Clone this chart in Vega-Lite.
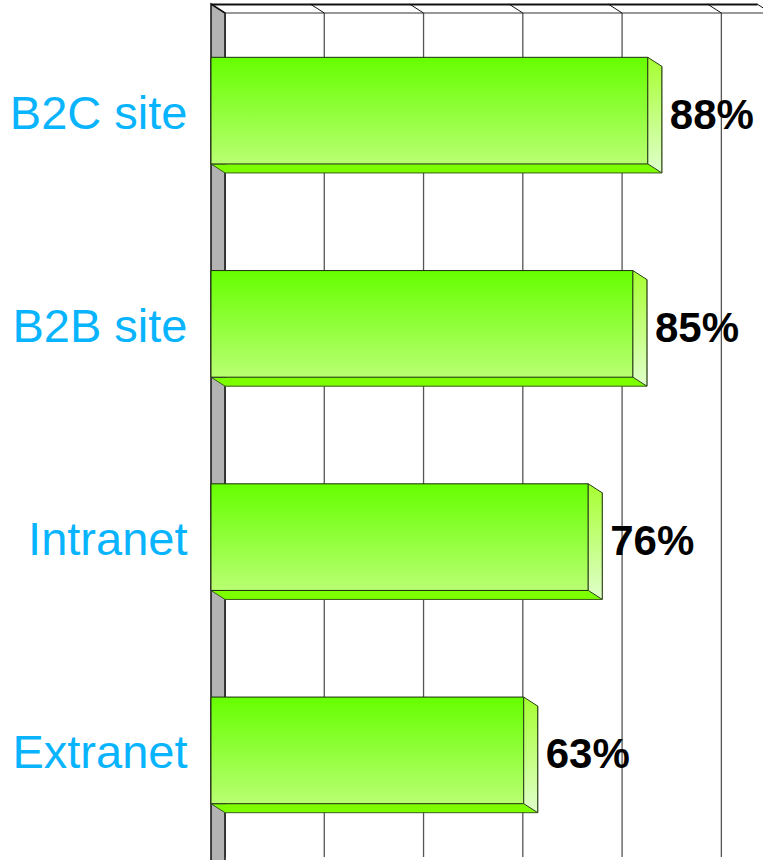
{
  "$schema": "https://vega.github.io/schema/vega-lite/v6.json",
  "width": 546,
  "height": 853,
  "autosize": {"type": "none"},
  "padding": {"left": 211, "top": 4, "right": 6, "bottom": 3},
  "background": "white",
  "config": {
    "view": {"stroke": null},
    "axisX": {"domain": true, "domainColor": "#111", "domainWidth": 2, "ticks": false, "labels": false, "grid": false},
    "axisY": {"domain": false, "ticks": false, "grid": false, "labelFont": "Liberation Sans", "labelFontSize": 47, "labelColor": "#08b4fd", "labelPadding": 24, "labelLimit": 300, "labelBaseline": "middle", "labelOffset": 4}
  },
  "datasets": {
    "bars": [
      {"category": "B2C site", "value": 88, "label": "88%"},
      {"category": "B2B site", "value": 85, "label": "85%"},
      {"category": "Intranet", "value": 76, "label": "76%"},
      {"category": "Extranet", "value": 63, "label": "63%"}
    ],
    "grid": [{"tick": 0}, {"tick": 20}, {"tick": 40}, {"tick": 60}, {"tick": 80}, {"tick": 100}],
    "edges": [{"tick": 0}, {"tick": 20}, {"tick": 40}, {"tick": 60}, {"tick": 80}, {"tick": 100}, {"tick": 110}],
    "origin": [{"tick": 0}]
  },
  "layer": [
    {
      "data": {"name": "grid"},
      "mark": {"type": "rule", "xOffset": 14, "yOffset": 9, "y2Offset": 9, "color": "#555", "strokeWidth": 1.3},
      "encoding": {
        "x": {"field": "tick", "type": "quantitative", "scale": {"domain": [0, 110], "nice": false, "zero": true}, "axis": {"orient": "top", "title": null}}
      }
    },
    {
      "data": {"name": "origin"},
      "mark": {"type": "point", "shape": "M14,-417.5L600,-417.5", "size": 4, "filled": false, "stroke": "#333", "strokeWidth": 1.2, "opacity": 1},
      "encoding": {
        "x": {"field": "tick", "type": "quantitative", "axis": {"orient": "top", "title": null}}
      }
    },
    {
      "data": {"name": "edges"},
      "mark": {"type": "point", "shape": "M0,-426.5L14,-417.5", "size": 4, "filled": false, "stroke": "#111", "strokeWidth": 1, "opacity": 1},
      "encoding": {
        "x": {"field": "tick", "type": "quantitative", "axis": {"orient": "top", "title": null}}
      }
    },
    {
      "data": {"name": "origin"},
      "mark": {"type": "point", "shape": "M0,-426.5L14,-417.5L14,445L0,436Z", "size": 4, "filled": true, "fill": "#b3b3b3", "stroke": "#111", "strokeWidth": 1.5, "opacity": 1},
      "encoding": {
        "x": {"field": "tick", "type": "quantitative", "axis": {"orient": "top", "title": null}}
      }
    },
    {
      "data": {"name": "bars"},
      "mark": {"type": "bar", "xOffset": 14, "x2Offset": 14, "yOffset": 9, "y2Offset": 9, "fill": "#7dff00", "stroke": "#3a5a1c", "strokeWidth": 1},
      "encoding": {
        "y": {"field": "category", "type": "nominal", "sort": ["B2C site", "B2B site", "Intranet", "Extranet"], "scale": {"paddingInner": 0.5, "paddingOuter": 0.25}, "axis": {"title": null}},
        "x": {"field": "value", "type": "quantitative", "axis": {"orient": "top", "title": null}}
      }
    },
    {
      "data": {"name": "bars"},
      "mark": {"type": "point", "shape": "M15,53.3L0,53.3L14,62.3L15,62.3", "size": 4, "filled": true, "fill": "#7dff00", "stroke": "#3a5a1c", "strokeWidth": 1, "opacity": 1},
      "encoding": {
        "y": {"field": "category", "type": "nominal", "sort": ["B2C site", "B2B site", "Intranet", "Extranet"], "axis": {"title": null}},
        "x": {"datum": 0, "type": "quantitative", "axis": {"orient": "top", "title": null}}
      }
    },
    {
      "data": {"name": "bars"},
      "mark": {
        "type": "bar",
        "stroke": "#1c2a10",
        "strokeWidth": 1,
        "fill": {"gradient": "linear", "x1": 0, "y1": 0, "x2": 0, "y2": 1, "stops": [{"offset": 0, "color": "#66ff00"}, {"offset": 1, "color": "#b9ff72"}]}
      },
      "encoding": {
        "y": {"field": "category", "type": "nominal", "sort": ["B2C site", "B2B site", "Intranet", "Extranet"], "axis": {"title": null}},
        "x": {"field": "value", "type": "quantitative", "axis": {"orient": "top", "title": null}}
      }
    },
    {
      "data": {"name": "bars"},
      "mark": {
        "type": "point",
        "shape": "M0,-53.3L14,-44.3L14,62.3L0,53.3Z",
        "size": 4,
        "filled": true,
        "opacity": 1,
        "stroke": "#2a3d18",
        "strokeWidth": 1,
        "fill": {"gradient": "linear", "x1": 0, "y1": 0, "x2": 0, "y2": 1, "stops": [{"offset": 0, "color": "#a6ff30"}, {"offset": 1, "color": "#e0ffcc"}]}
      },
      "encoding": {
        "y": {"field": "category", "type": "nominal", "sort": ["B2C site", "B2B site", "Intranet", "Extranet"], "axis": {"title": null}},
        "x": {"field": "value", "type": "quantitative", "axis": {"orient": "top", "title": null}}
      }
    },
    {
      "data": {"name": "bars"},
      "mark": {"type": "text", "align": "left", "baseline": "middle", "dx": 22, "dy": 5, "font": "Liberation Sans", "fontWeight": "bold", "fontSize": 42, "color": "#000"},
      "encoding": {
        "y": {"field": "category", "type": "nominal", "sort": ["B2C site", "B2B site", "Intranet", "Extranet"], "axis": {"title": null}},
        "x": {"field": "value", "type": "quantitative", "axis": {"orient": "top", "title": null}},
        "text": {"field": "label"}
      }
    }
  ]
}
